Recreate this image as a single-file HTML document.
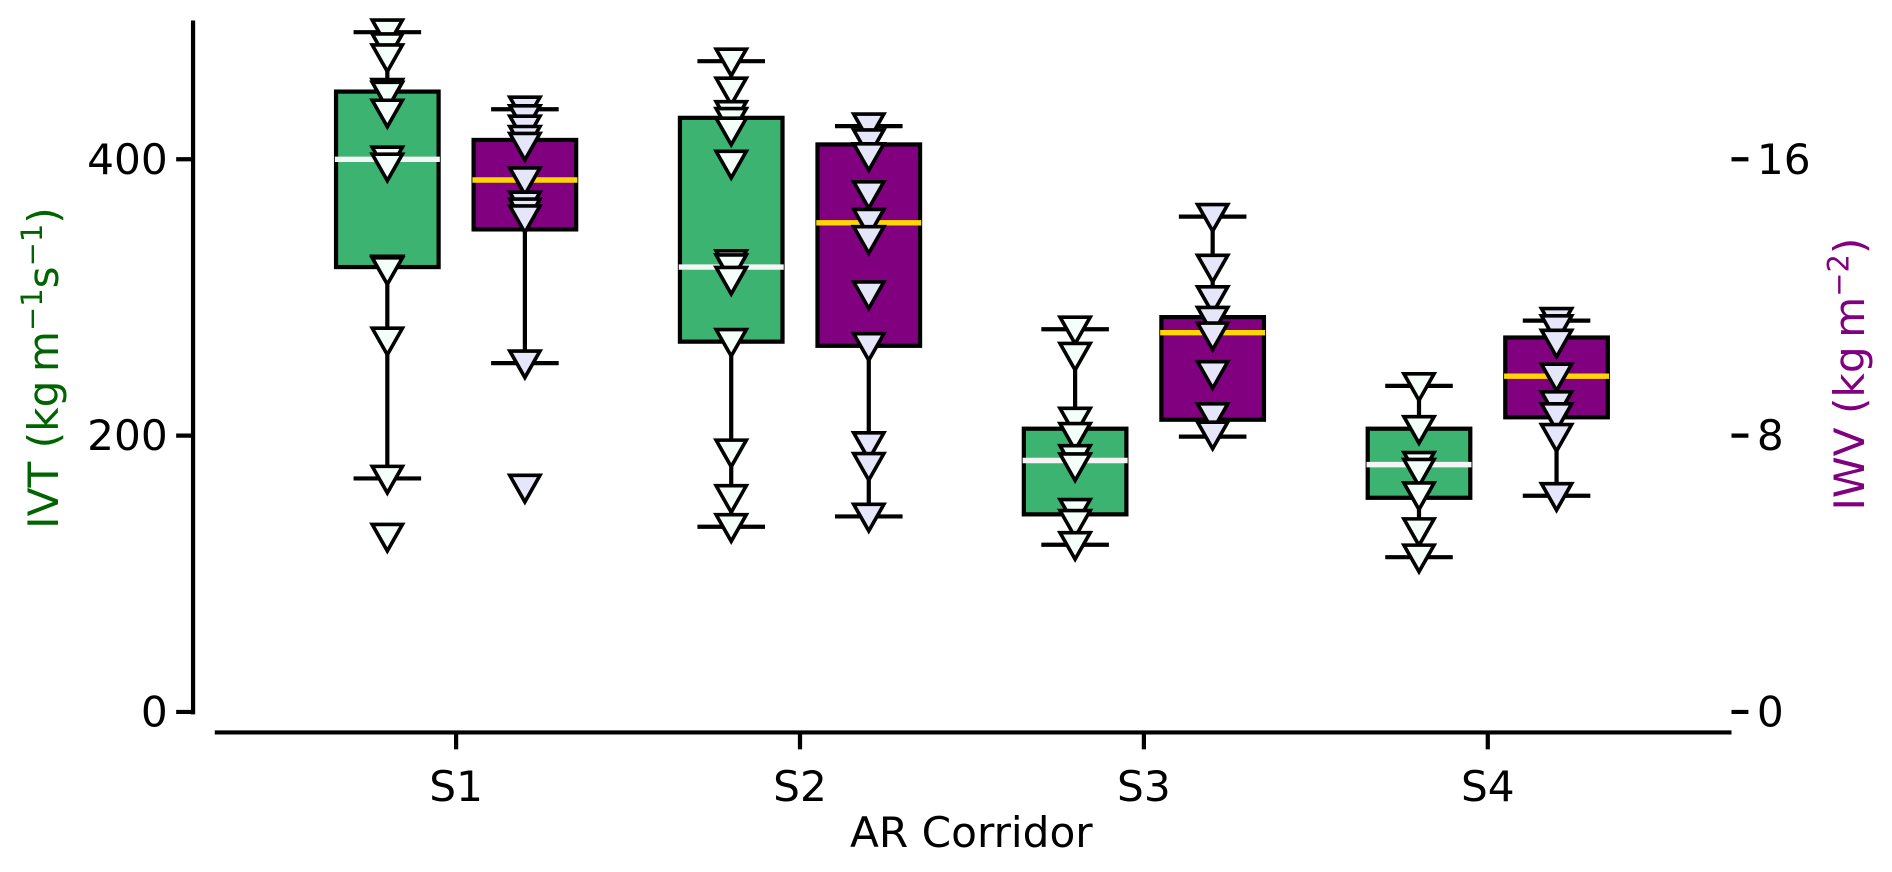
<!DOCTYPE html>
<html><head><meta charset="utf-8"><style>
body{margin:0;background:#fff}
svg text{font-family:"DejaVu Sans","Liberation Sans",sans-serif}
</style></head><body>
<svg id="c" width="1892" height="867" viewBox="0 0 1568 718.5"></svg>
<script>
const categories=["S1","S2","S3","S4"];
// IVT stats (kg m-1 s-1)
const ivtQ1=[322,268,143,155];
const ivtMed=[400,322,182,179];
const ivtQ3=[449,430,205,205];
const ivtLo=[169,134,121,112];
const ivtHi=[492,471,277,236];
const ivtPts=[
 [492,482,474,449,447,434,400,395,321,320,269,169,127],
 [471,450,433,428,421,397,325,322,313,268,188,155,134],
 [277,258,211,200,184,178,145,137,121],
 [236,205,179,174,157,131,112]];
// IWV stats (kg m-2)
const iwvQ1=[13.97,10.6,8.46,8.53];
const iwvMed=[15.4,14.16,10.98,9.72];
const iwvQ3=[16.56,16.43,11.43,10.84];
const iwvLo=[10.1,5.66,7.97,6.26];
const iwvHi=[17.45,16.96,14.34,11.33];
const iwvPts=[
 [17.45,17.2,16.9,16.6,16.4,15.4,14.7,14.5,14.3,10.1,6.5],
 [16.96,16.5,16.1,15.0,14.2,13.7,12.1,10.6,7.73,7.13,5.66],
 [14.34,12.87,11.96,11.36,10.91,9.79,8.57,8.04],
 [11.33,11.12,10.7,9.72,8.92,8.57,7.97,6.26]];
const leftTicks=[0,200,400];
const rightTicks=[0,8,16];

const NS="http://www.w3.org/2000/svg",svg=document.getElementById('c');
function el(t,a,p){const e=document.createElementNS(NS,t);for(const k in a)e.setAttribute(k,a[k]);(p||svg).appendChild(e);return e;}
const y0=590,ppu=229/200;
const yL=v=>y0-v*ppu, yR=v=>y0-v*25*ppu;
const xC=i=>378+i*285;
const BW=85,OFF=57,LW=3.5,FS=35;

let e=el('line',{x1:160,y1:17,x2:160,y2:592,stroke:'#000','stroke-width':LW});

e=el('line',{x1:178,y1:607,x2:1435,y2:607,stroke:'#000','stroke-width':LW});

leftTicks.forEach(v=>{
 const y=yL(v);
 el('line',{x1:146,y1:y,x2:160,y2:y,stroke:'#000','stroke-width':LW});
 const t=el('text',{x:139,y:y+12,'text-anchor':'end','font-size':FS,fill:'#000'});t.textContent=v;
 
});
rightTicks.forEach(v=>{
 const y=yR(v);
 el('line',{x1:1435,y1:y,x2:1449,y2:y,stroke:'#000','stroke-width':LW});
 const t=el('text',{x:1456,y:y+12,'font-size':FS,fill:'#000'});t.textContent=v;
 
});
categories.forEach((c,i)=>{
 el('line',{x1:xC(i),y1:607,x2:xC(i),y2:621,stroke:'#000','stroke-width':LW});
 const t=el('text',{x:xC(i),y:664,'text-anchor':'middle','font-size':FS});t.textContent=c;
 
});
e=el('text',{x:805,y:702,'text-anchor':'middle','font-size':FS});e.textContent='AR Corridor';

e=el('text',{transform:'translate(48,305) rotate(-90)','text-anchor':'middle','font-size':FS,fill:'#006400'});
e.innerHTML='IVT (kg\u2009m<tspan dy="-13" font-size="24">\u22121</tspan><tspan dy="13">s</tspan><tspan dy="-13" font-size="24">\u22121</tspan><tspan dy="13">)</tspan>';

e=el('text',{transform:'translate(1545,310) rotate(-90)','text-anchor':'middle','font-size':FS,fill:'#800080'});
e.innerHTML='IWV (kg\u2009m<tspan dy="-13" font-size="24">\u22122</tspan><tspan dy="13">)</tspan>';


function tri(x,y,fill,g){
 const p=el('polygon',{points:`${x-12.5},${y-10} ${x+12.5},${y-10} ${x},${y+12}`,fill:fill,stroke:'#000','stroke-width':3,'stroke-linejoin':'miter'},g);
 
}
function box(cx,q1,med,q3,lo,hi,pts,Y,fill,medC,ptFill,name){
 const g=el('g',{});
 
 el('line',{x1:cx,y1:Y(hi),x2:cx,y2:Y(lo),stroke:'#000','stroke-width':LW},g);
 el('line',{x1:cx-28,y1:Y(hi),x2:cx+28,y2:Y(hi),stroke:'#000','stroke-width':LW},g);
 el('line',{x1:cx-28,y1:Y(lo),x2:cx+28,y2:Y(lo),stroke:'#000','stroke-width':LW},g);
 el('rect',{x:cx-BW/2,y:Y(q3),width:BW,height:Y(q1)-Y(q3),fill:fill,stroke:'#000','stroke-width':LW},g);
 el('line',{x1:cx-BW/2-1,y1:Y(med),x2:cx+BW/2+1,y2:Y(med),stroke:medC,'stroke-width':4.5},g);
 pts.forEach(v=>tri(cx,Y(v),ptFill,g));
}
categories.forEach((c,i)=>{
 box(xC(i)-OFF,ivtQ1[i],ivtMed[i],ivtQ3[i],ivtLo[i],ivtHi[i],ivtPts[i],yL,'#3cb371','#f5f5f5','#f5fffa','ivt-box-'+c.toLowerCase());
 box(xC(i)+OFF,iwvQ1[i],iwvMed[i],iwvQ3[i],iwvLo[i],iwvHi[i],iwvPts[i],yR,'#800080','#ffd700','#e6e6fa','iwv-box-'+c.toLowerCase());
});
</script>
</body></html>
